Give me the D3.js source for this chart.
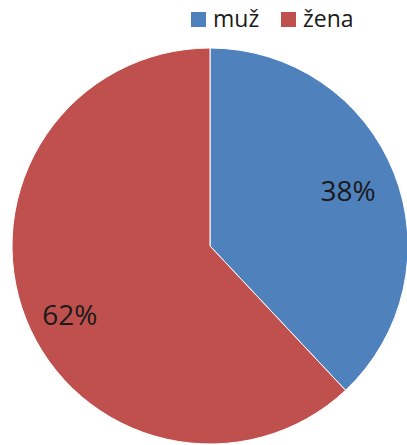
<!DOCTYPE html>
<html lang="cs">
<head>
<meta charset="utf-8">
<title>muž / žena</title>
<script src="https://d3js.org/d3.v7.min.js"></script>
<style>
  body { margin: 0; background: #fff; }
  svg text { font-family: "Open Sans", "DejaVu Sans", sans-serif; fill: #1a1a1a; }
</style>
</head>
<body>
<script>
// data
const categories = ["muž", "žena"];
const values = [38, 62];
const colors = ["#4F81BD", "#C0504D"];

const width = 407, height = 445;
const cx = 210, cy = 246, radius = 198;

const svg = d3.select("body").append("svg")
    .attr("width", width)
    .attr("height", height);

const color = d3.scaleOrdinal().domain(categories).range(colors);

const pie = d3.pie().sort(null).value(d => d.value);
const rows = categories.map((c, i) => ({ name: c, value: values[i] }));
const total = d3.sum(values);

const arc = d3.arc().innerRadius(0).outerRadius(radius);
const labelArc = d3.arc().innerRadius(radius * 0.75).outerRadius(radius * 0.75);
// excel nudges the big slice label a bit lower
const labelNudge = [[0, 0], [-2, 14]];

const g = svg.append("g").attr("transform", `translate(${cx},${cy})`);

g.selectAll("path")
    .data(pie(rows))
    .join("path")
    .attr("d", arc)
    .attr("fill", d => color(d.data.name))
    .attr("stroke", "#fff")
    .attr("stroke-width", 1);

g.selectAll("text.lbl")
    .data(pie(rows))
    .join("text")
    .attr("class", "lbl")
    .attr("transform", (d, i) => {
        const [x, y] = labelArc.centroid(d);
        return `translate(${x + labelNudge[i][0]},${y + labelNudge[i][1]})`;
    })
    .attr("text-anchor", "middle")
    .attr("dy", "0.36em")
    .style("font-size", "28px")
    .text(d => Math.round(d.data.value / total * 100) + "%");

// legend
const legend = svg.append("g").attr("transform", "translate(191,12)");
const legX = [0, 90];
const item = legend.selectAll("g")
    .data(categories)
    .join("g")
    .attr("transform", (d, i) => `translate(${legX[i]},0)`);
item.append("rect")
    .attr("width", 15).attr("height", 15)
    .attr("fill", d => color(d));
item.append("text")
    .attr("x", 22).attr("y", 15)
    .style("font-size", "23px")
    .text(d => d);
</script>
</body>
</html>
